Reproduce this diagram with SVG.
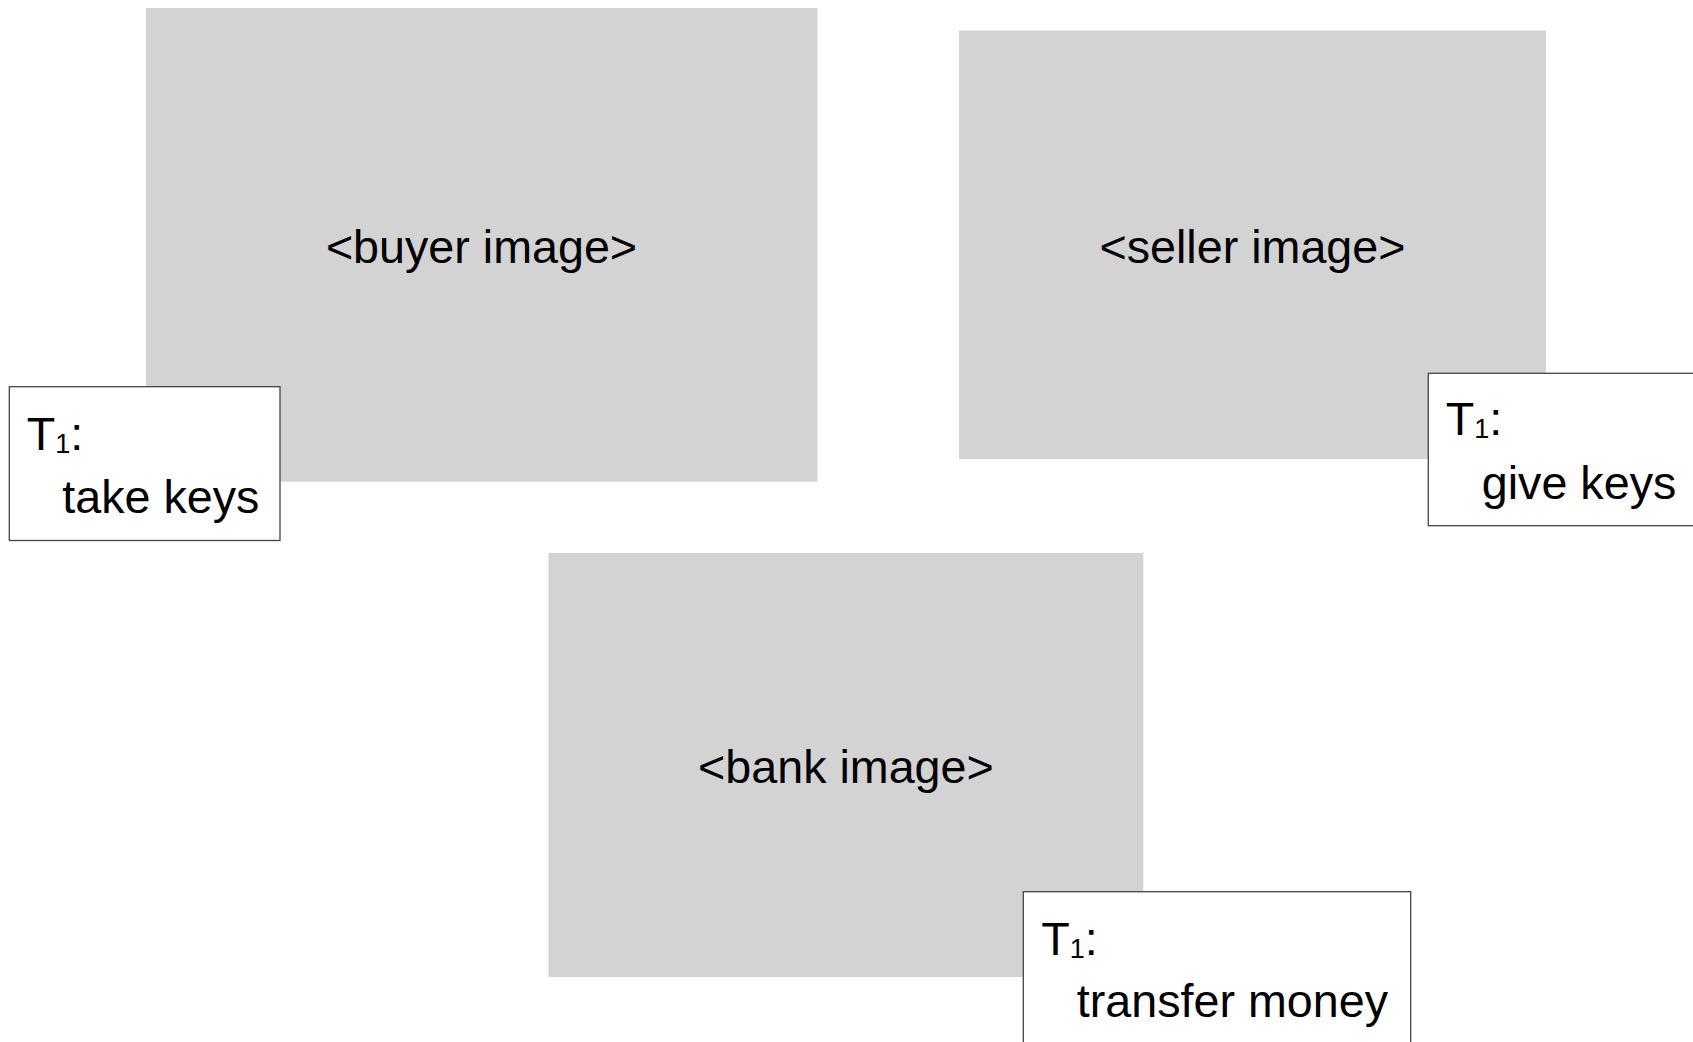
<svg xmlns="http://www.w3.org/2000/svg" width="1693" height="1042" viewBox="0 0 1693 1042">
  <style>
    .img { fill: #d3d3d3; }
    .lbl { font-family: "Liberation Sans", Arial, sans-serif; font-size: 46.67px; fill: #000; }
    .box { fill: #fff; stroke: #444; stroke-width: 1.3; }
    .sub { font-size: 27px; }
  </style>
  <rect width="1693" height="1042" fill="#fff"/>
  <g id="buyer">
    <rect class="img" x="146" y="8" width="671.5" height="473.7"/>
    <text class="lbl" x="481.5" y="262.5" text-anchor="middle">&lt;buyer image&gt;</text>
  </g>
  <g id="seller">
    <rect class="img" x="959" y="30.5" width="587" height="428.5"/>
    <text class="lbl" x="1252.5" y="262.5" text-anchor="middle">&lt;seller image&gt;</text>
  </g>
  <g id="bank">
    <rect class="img" x="548.5" y="553" width="594.8" height="424"/>
    <text class="lbl" x="845.9" y="782.5" text-anchor="middle">&lt;bank image&gt;</text>
  </g>
  <g id="buyer-task">
    <rect class="box" x="9.3" y="386.7" width="270.7" height="153.8"/>
    <text class="lbl" x="26.8" y="450">T<tspan class="sub" dy="3.3">1</tspan><tspan dy="-3.3">:</tspan></text>
    <text class="lbl" x="62.3" y="513">take keys</text>
  </g>
  <g id="seller-task">
    <rect class="box" x="1428.3" y="373.3" width="270" height="152.4"/>
    <text class="lbl" x="1445.8" y="435">T<tspan class="sub" dy="3.3">1</tspan><tspan dy="-3.3">:</tspan></text>
    <text class="lbl" x="1481.8" y="499">give keys</text>
  </g>
  <g id="bank-task">
    <rect class="box" x="1023.3" y="891.7" width="387.4" height="160"/>
    <text class="lbl" x="1041.2" y="955">T<tspan class="sub" dy="3.3">1</tspan><tspan dy="-3.3">:</tspan></text>
    <text class="lbl" x="1076.8" y="1017">transfer money</text>
  </g>
  <g id="connectors"></g>
</svg>
